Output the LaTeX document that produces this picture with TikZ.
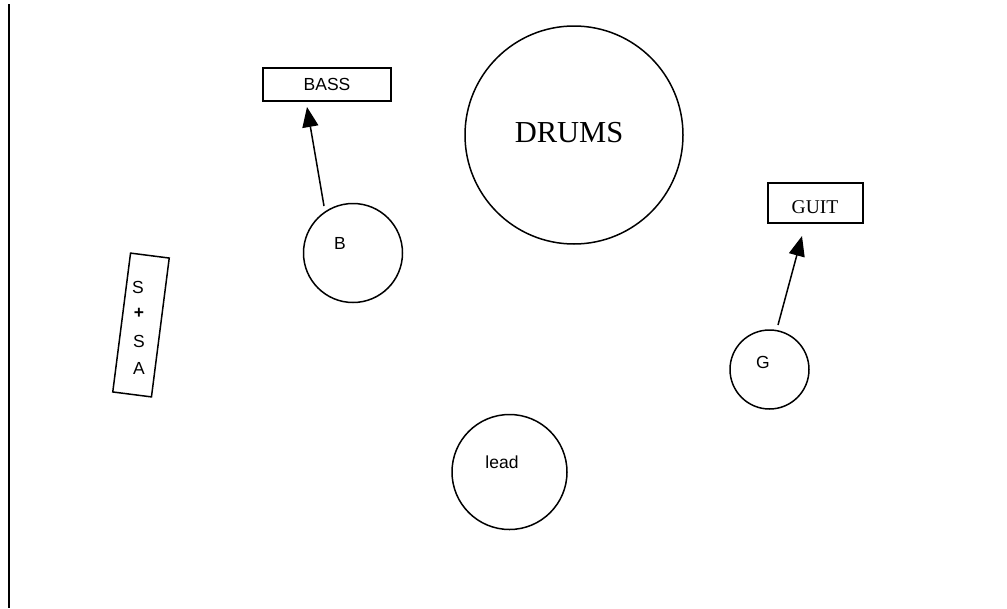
\documentclass[tikz,border=0pt]{standalone}
\usepackage{fontspec}
\setmainfont{Liberation Serif}
\setsansfont{Liberation Sans}
\usepackage{tikz}
\usetikzlibrary{arrows.meta}

\begin{document}
\begin{tikzpicture}[x=1pt,y=-1pt,line width=1.5pt]

\tikzstyle{amp}=[rectangle, draw, inner sep=0pt]
\tikzstyle{player}=[circle, draw, inner sep=0pt]
\tikzstyle{lbl}=[font=\sffamily\fontsize{17.5}{18}\selectfont]
\tikzstyle{arrow}=[-{Triangle[length=20pt,width=16pt]}]

\useasboundingbox (0,0) rectangle (1007,608);

% edge of the stage
\coordinate (top) at (9,4);
\coordinate (bottom) at (9,608);
\draw (top) -- (bottom);

\node (bass) [amp, minimum width=128pt, minimum height=33pt] at (327,84.5) {};
\node [lbl] at (bass.center) {BASS};

\node (drums) [player, minimum size=218pt] at (574,135) {};
\node [font=\fontsize{30.5}{31}\selectfont] at (569,133) {DRUMS};

\node (b) [player, minimum size=99pt] at (353,253) {};
\node [lbl] at (340,243) {B};

\node (guit) [amp, minimum width=95pt, minimum height=40pt] at (815.5,203) {};
\node [font=\fontsize{19.5}{20}\selectfont] at (815,207) {GUIT};

\node (g) [player, minimum size=79pt] at (769.5,369.5) {};
\node [lbl] at (763,362) {G};

\node (lead) [player, minimum size=115pt] at (509.5,472) {};
\node [lbl] at (502,462) {lead};

\node (ssa) [amp, minimum width=39pt, minimum height=140pt, rotate=-7.3] at (141,325) {};
\node [lbl] at (138,287) {S};
\node [lbl] at (139,313) {\textbf{+}};
\node [lbl] at (139,341) {S};
\node [lbl] at (139,368) {A};

\coordinate (btail) at (324,206);
\coordinate (bhead) at (307,107);
\coordinate (gtail) at (778,325);
\coordinate (ghead) at (802,236);
\draw [arrow] (btail) -- (bhead);
\draw [arrow] (gtail) -- (ghead);

\end{tikzpicture}
\end{document}
